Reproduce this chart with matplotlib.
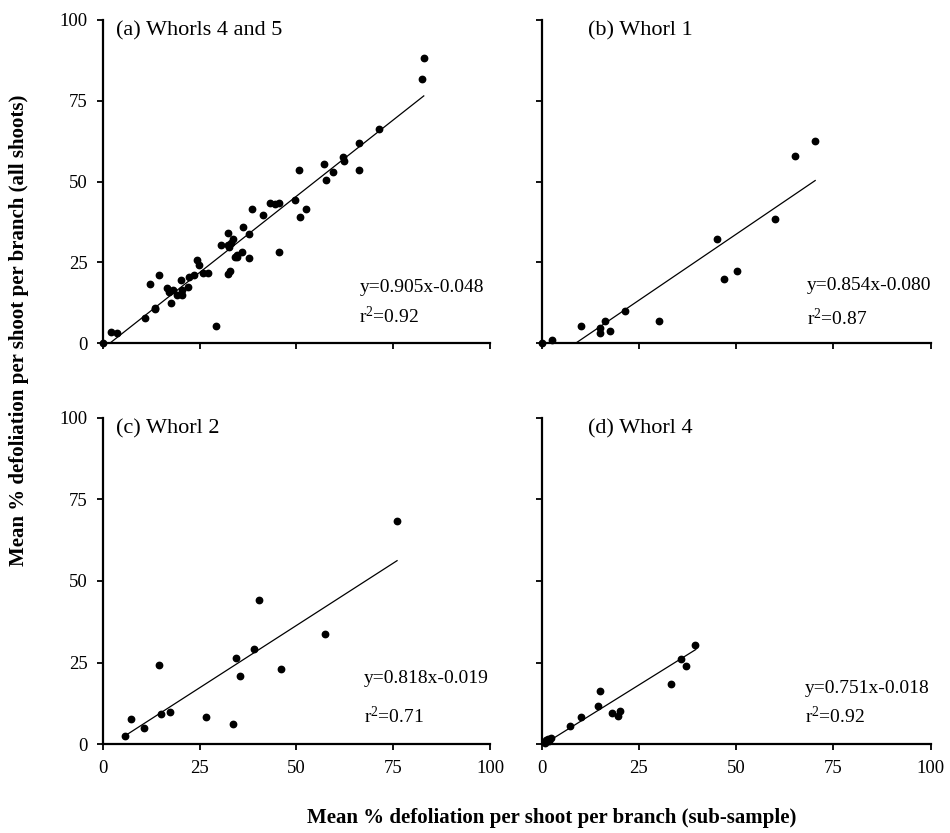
import matplotlib
matplotlib.use("Agg")
import matplotlib.pyplot as plt

plt.rcParams["font.family"] = ["Liberation Serif", "DejaVu Serif"]
plt.rcParams["mathtext.fontset"] = "custom"
plt.rcParams["mathtext.rm"] = "Liberation Serif"
plt.rcParams["mathtext.it"] = "Liberation Serif:italic"

# panel (a) Whorls 4 and 5
a_x = [0, 2.1, 3.8, 10.9, 13.5, 13.6, 12.2, 14.6, 16.5, 17.6, 17.2, 18.1, 19.3, 20.2, 20.4,
       20.6, 22.1, 22.3, 23.7, 24.3, 24.8, 26.0, 27.3, 29.2, 30.5, 32.3, 32.3, 32.7, 33.1,
       33.7, 32.3, 32.9, 34.2, 34.8, 34.6, 35.9, 36.3, 37.7, 37.8, 38.5, 41.3, 43.3, 44.5,
       45.6, 45.6, 49.7, 50.7, 50.9, 52.5, 57.1, 57.7, 59.5, 62.1, 62.2, 66.1, 66.2, 71.3,
       82.4, 82.9]
a_y = [0, 3.3, 3.0, 7.9, 10.9, 10.5, 18.3, 21.0, 16.9, 12.3, 15.9, 16.4, 14.9, 19.5, 14.9,
       16.4, 17.2, 20.3, 21.0, 25.7, 24.1, 21.8, 21.8, 5.3, 30.3, 34.2, 30.3, 29.8, 30.9,
       32.3, 21.4, 22.3, 26.7, 26.5, 27.4, 28.2, 35.9, 26.4, 33.7, 41.5, 39.7, 43.4, 43.1,
       43.3, 28.3, 44.3, 53.7, 38.9, 41.4, 55.4, 50.5, 53.0, 57.6, 56.3, 61.8, 53.6, 66.4,
       81.6, 88.2]
a_fit_x = [1.9, 82.9]
a_fit_y = [0.0, 76.5]

# panel (b) Whorl 1
b_x = [0, 2.7, 10.1, 15.0, 15.0, 16.4, 17.6, 21.4, 30.2, 45.1, 46.8, 50.1, 60.1, 65.1, 70.2]
b_y = [0, 0.9, 5.3, 4.8, 3.2, 6.9, 3.7, 9.8, 6.9, 32.3, 19.9, 22.2, 38.4, 57.8, 62.6]
b_fit_x = [8.8, 70.3]
b_fit_y = [0.0, 50.3]

# panel (c) Whorl 2
c_x = [5.8, 7.3, 10.7, 14.6, 15.1, 17.3, 26.7, 33.6, 34.5, 35.4, 39.0, 40.3, 46.0, 57.5, 75.9]
c_y = [2.5, 7.7, 5.1, 24.4, 9.4, 9.9, 8.2, 6.2, 26.3, 21.0, 29.3, 44.2, 23.1, 33.8, 68.2]
c_fit_x = [5.5, 76.0]
c_fit_y = [2.4, 56.2]

# panel (d) Whorl 4
d_x = [0.8, 1.2, 1.6, 2.0, 2.3, 7.2, 10.1, 14.4, 15.0, 18.2, 19.7, 20.2, 33.3, 35.9, 37.1, 39.3]
d_y = [0.3, 1.2, 1.6, 0.9, 1.9, 5.6, 8.3, 11.7, 16.4, 9.5, 8.8, 10.3, 18.5, 26.2, 23.9, 30.3]
d_fit_x = [1.2, 39.6]
d_fit_y = [0.5, 29.0]

titles = ["(a) Whorls 4 and 5", "(b) Whorl 1", "(c) Whorl 2", "(d) Whorl 4"]
equations = ["y=0.905x-0.048", "y=0.854x-0.080", "y=0.818x-0.019", "y=0.751x-0.018"]
r2_values = ["0.92", "0.87", "0.71", "0.92"]
ticks = [0, 25, 50, 75, 100]

fig = plt.figure(figsize=(9.5, 8.33), dpi=100)

rects = [
    [0.1081, 0.5882, 0.4077, 0.3878],
    [0.5702, 0.5882, 0.4095, 0.3878],
    [0.1081, 0.1065, 0.4077, 0.3922],
    [0.5702, 0.1065, 0.4095, 0.3922],
]
data = [(a_x, a_y, a_fit_x, a_fit_y), (b_x, b_y, b_fit_x, b_fit_y),
        (c_x, c_y, c_fit_x, c_fit_y), (d_x, d_y, d_fit_x, d_fit_y)]
title_x = [0.034, 0.12, 0.034, 0.12]
eq_pos = [(0.663, 0.159, 0.061), (0.681, 0.164, 0.056),
          (0.675, 0.187, 0.064), (0.677, 0.156, 0.064)]

for i in range(4):
    ax = fig.add_axes(rects[i])
    xs, ys, fx, fy = data[i]
    ax.plot(fx, fy, color="black", linewidth=0.9)
    ax.plot(xs, ys, marker="o", markersize=4.6, color="black", linestyle="None", clip_on=False)

    ax.set_xlim(0, 100)
    ax.set_ylim(0, 100)
    ax.set_xticks(ticks)
    ax.set_yticks(ticks)
    for side in ["top", "right"]:
        ax.spines[side].set_visible(False)
    for side in ["left", "bottom"]:
        ax.spines[side].set_linewidth(1.6)
    ax.tick_params(direction="out", length=4, width=1.3, labelsize=13.5, pad=7)
    if i < 2:
        ax.tick_params(axis="x", labelbottom=False)
    if i % 2 == 1:
        ax.tick_params(axis="y", labelleft=False)

    ax.text(title_x[i], 0.995, titles[i], transform=ax.transAxes, fontsize=16,
            ha="left", va="top")
    ex, ey, ry = eq_pos[i]
    ax.text(ex, ey, equations[i], transform=ax.transAxes, fontsize=14, va="baseline")
    ax.text(ex, ry, "r$^2$=" + r2_values[i], transform=ax.transAxes, fontsize=14, va="baseline")

fig.text(0.581, 0.018, "Mean % defoliation per shoot per branch (sub-sample)",
         ha="center", va="center", fontsize=15, fontweight="bold")
fig.text(0.0195, 0.604, "Mean % defoliation per shoot per branch (all shoots)",
         ha="center", va="center", rotation=90, fontsize=15, fontweight="bold")

fig.savefig("out.png", dpi=100)
